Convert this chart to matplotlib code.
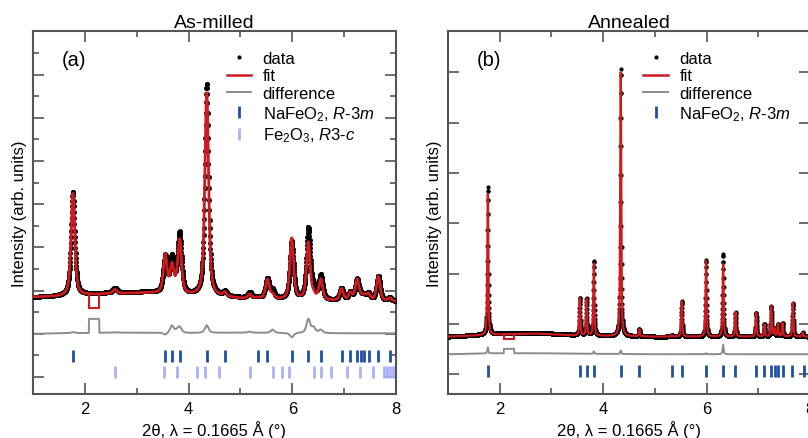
import numpy as np
import matplotlib
matplotlib.use("Agg")
import matplotlib.pyplot as plt
from matplotlib.lines import Line2D
from matplotlib.patches import Rectangle

plt.rcParams['font.family'] = ['Liberation Sans', 'DejaVu Sans']
plt.rcParams['mathtext.fontset'] = 'custom'
plt.rcParams['mathtext.rm'] = 'Liberation Sans'
plt.rcParams['mathtext.it'] = 'Liberation Sans:italic'

# reflection positions (2theta, deg)
nafeo2_ticks = [1.77, 3.55, 3.68, 3.83, 4.35, 4.70, 5.33, 5.52, 5.99, 6.31, 6.55,
                6.95, 7.12, 7.25, 7.32, 7.39, 7.47, 7.66, 7.88]
fe2o3_ticks = [2.58, 3.52, 3.78, 4.16, 4.31, 4.58, 5.18, 5.62, 5.81, 5.94, 6.41,
               6.55, 6.74, 7.05, 7.30, 7.56, 7.76, 7.83, 7.89, 7.95]

# as-milled: peak positions, fitted and observed heights (arb. units)
milled_pos = [1.77, 2.58, 3.55, 3.68, 3.78, 3.83, 4.35, 4.70, 5.18, 5.33, 5.52, 5.62,
              5.99, 6.31, 6.41, 6.55, 6.95, 7.12, 7.25, 7.32, 7.39, 7.47, 7.66, 7.88]
milled_fit = [4.75, 0.20, 1.75, 1.25, 0.25, 2.40, 9.45, 0.20, 0.20, 0.05, 0.90, 0.20,
              2.85, 2.65, 0.20, 0.95, 0.55, 0.35, 0.95, 0.15, 0.20, 0.30, 1.15, 0.15]
milled_obs = [4.80, 0.22, 1.65, 1.58, 0.35, 2.65, 9.80, 0.20, 0.25, 0.05, 0.90, 0.35,
              2.65, 3.30, 0.45, 1.10, 0.55, 0.35, 0.95, 0.15, 0.20, 0.30, 1.15, 0.15]
milled_bg_x = [1.0, 1.5, 2.5, 3.2, 4.0, 5.0, 6.0, 7.0, 8.0]
milled_bg_fit = [-0.30, -0.28, -0.15, -0.12, -0.25, -0.38, -0.45, -0.50, -0.52]
milled_bg_obs = [-0.30, -0.26, -0.10, -0.07, -0.22, -0.33, -0.42, -0.48, -0.50]
milled_fwhm = 0.085
milled_excl = [2.08, 2.28]
milled_excl_fit = -0.8

# annealed
annealed_pos = [1.77, 3.55, 3.68, 3.82, 4.34, 4.70, 5.33, 5.52, 5.99, 6.32, 6.56,
                6.96, 7.12, 7.25, 7.31, 7.38, 7.47, 7.67, 7.86]
annealed_fit = [2.80, 0.74, 0.72, 1.43, 5.24, 0.14, 0.03, 0.70, 1.50, 1.44, 0.48,
                0.47, 0.24, 0.60, 0.15, 0.25, 0.27, 0.67, 0.08]
annealed_obs = [2.92, 0.74, 0.72, 1.48, 5.31, 0.14, 0.03, 0.70, 1.52, 1.63, 0.48,
                0.47, 0.24, 0.60, 0.15, 0.25, 0.27, 0.67, 0.08]
annealed_bg_x = [1.0, 2.0, 2.7, 3.5, 5.0, 8.0]
annealed_bg_fit = [-0.25, -0.21, -0.19, -0.23, -0.25, -0.25]
annealed_bg_obs = [-0.25, -0.19, -0.17, -0.22, -0.25, -0.25]
annealed_fwhm = 0.024
annealed_excl = [2.08, 2.28]
annealed_excl_fit = -0.29

RED = '#cc1a20'
GREY = '#8c8c8c'
BLUE = '#1f4fa3'
LAV = '#aab2f7'
SPINE = '#555555'


def profile(x, pos, h, fwhm, bg_x, bg_y, eta=0.6):
    y = np.interp(x, bg_x, bg_y)
    hw = fwhm / 2
    for p, a in zip(pos, h):
        d = x - p
        lor = 1 / (1 + (d / hw) ** 2)
        gau = np.exp(-np.log(2) * (d / hw) ** 2)
        y = y + a * (eta * lor + (1 - eta) * gau)
    return y


def style(ax, ylim, ymaj, ymin=None):
    ax.set_xlim(1, 8)
    ax.set_ylim(*ylim)
    ax.set_xticks([2, 4, 6, 8])
    ax.set_xticks([3, 5, 7], minor=True)
    ax.set_yticks(ymaj)
    if ymin is not None:
        ax.set_yticks(ymin, minor=True)
    ax.set_yticklabels([])
    ax.tick_params(which='both', direction='in', top=True, right=True,
                   color=SPINE, width=1.2, labelsize=12, pad=5)
    ax.tick_params(which='major', length=8)
    ax.tick_params(which='minor', length=4.5)
    for s in ax.spines.values():
        s.set_color(SPINE)
        s.set_linewidth(1.5)
    ax.set_xlabel('2θ, λ = 0.1665 Å (°)', fontsize=12, labelpad=3)
    ax.set_ylabel('Intensity (arb. units)', fontsize=12, labelpad=-1)


def panel(ax, pos, fit_h, obs_h, fwhm, bgx, bgf, bgo, excl, excl_fit,
          step, diff_off, ms, lw):
    x = np.arange(1.0, 8.0 + step / 2, step)
    fit = profile(x, pos, fit_h, fwhm, bgx, bgf)
    obs = profile(x, pos, obs_h, fwhm, bgx, bgo)
    inside = (x >= excl[0]) & (x <= excl[1])
    fit_d = np.where(inside, excl_fit, fit)
    ax.plot(x, obs - fit_d + diff_off, color=GREY, lw=1.4)
    ax.plot(x, obs, ls='none', marker='o', ms=ms, mew=0, color='k', zorder=3)
    ax.plot(x, fit, color=RED, lw=lw, zorder=4)
    top = np.interp(excl[0], x, fit)
    ax.add_patch(Rectangle((excl[0], excl_fit), excl[1] - excl[0], top - excl_fit,
                           fill=False, ec=RED, lw=1.5, zorder=4))


fig = plt.figure(figsize=(8.08, 4.39), dpi=100)
ax1 = fig.add_axes([33 / 808, 44 / 439, 363 / 808, 363 / 439])
ax2 = fig.add_axes([448 / 808, 44 / 439, 362 / 808, 363 / 439])

# (a) as-milled
panel(ax1, milled_pos, milled_fit, milled_obs, milled_fwhm, milled_bg_x,
      milled_bg_fit, milled_bg_obs, milled_excl, milled_excl_fit, 0.004, -2.0, 3.6, 2.0)
ax1.plot(nafeo2_ticks, np.full(len(nafeo2_ticks), -3.03), ls='none', marker='|',
         ms=8, mew=2, color=BLUE)
ax1.plot(fe2o3_ticks, np.full(len(fe2o3_ticks), -3.77), ls='none', marker='|',
         ms=8, mew=2, color=LAV)
style(ax1, (-4.79, 12.02), np.arange(-4, 12, 2), np.arange(-3, 12, 2))
ax1.set_title('As-milled', fontsize=14, pad=3)
ax1.text(0.08, 0.905, '(a)', transform=ax1.transAxes, fontsize=14.5)

# (b) annealed
panel(ax2, annealed_pos, annealed_fit, annealed_obs, annealed_fwhm, annealed_bg_x,
      annealed_bg_fit, annealed_bg_obs, annealed_excl, annealed_excl_fit, 0.002, -0.6, 3.0, 1.6)
ax2.plot(nafeo2_ticks, np.full(len(nafeo2_ticks), -0.93), ls='none', marker='|',
         ms=8, mew=2, color=BLUE)
style(ax2, (-1.39, 5.82), np.arange(-1, 6, 1))
ax2.set_title('Annealed', fontsize=14, pad=3)
ax2.text(0.08, 0.905, '(b)', transform=ax2.transAxes, fontsize=14.5)

# legends
h_data = Line2D([], [], ls='none', marker='o', ms=3, mew=0, color='k')
h_fit = Line2D([], [], color=RED, lw=1.8)
h_diff = Line2D([], [], color=GREY, lw=1.4)
h_na = Line2D([], [], ls='none', marker='|', ms=9, mew=2, color=BLUE)
h_fe = Line2D([], [], ls='none', marker='|', ms=9, mew=2, color=LAV)
lab_na = r'NaFeO$_2$, $\mathit{R}$-$\mathit{3m}$'
lab_fe = r'Fe$_2$O$_3$, $\mathit{R3}$-$\mathit{c}$'
kw = dict(loc='upper left', frameon=False, fontsize=12, handlelength=1.45,
          handletextpad=0.7, labelspacing=0.17, borderpad=0, borderaxespad=0)
ax1.legend([h_data, h_fit, h_diff, h_na, h_fe],
           ['data', 'fit', 'difference', lab_na, lab_fe],
           bbox_to_anchor=(0.534, 0.946), **kw)
ax2.legend([h_data, h_fit, h_diff, h_na],
           ['data', 'fit', 'difference', lab_na],
           bbox_to_anchor=(0.54, 0.946), **kw)

fig.savefig('out.png', dpi=100)
